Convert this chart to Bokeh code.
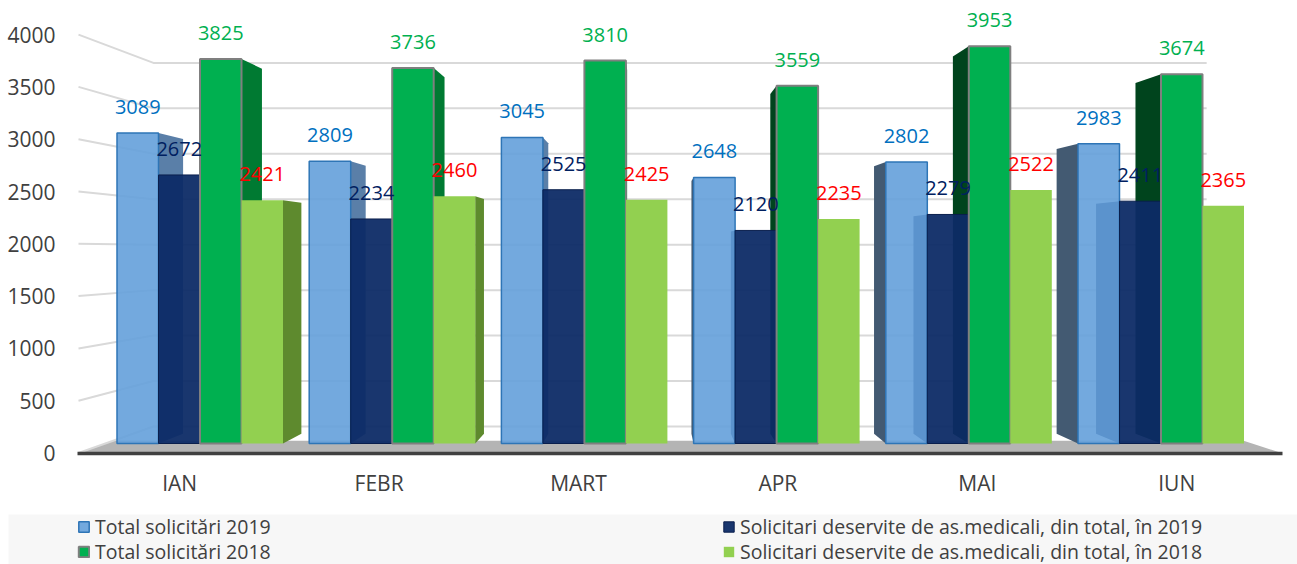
from bokeh.plotting import figure
from bokeh.models import (Range1d, LinearAxis, FixedTicker, Legend, LegendItem,
                          BoxAnnotation, ColumnDataSource, Grid)
from bokeh.core.properties import value
from bokeh.embed import file_html
from bokeh.resources import INLINE

# ---------------- data ----------------
months = ["IAN", "FEBR", "MART", "APR", "MAI", "IUN"]
total_2019 = [3089, 2809, 3045, 2648, 2802, 2983]
asist_2019 = [2672, 2234, 2525, 2120, 2279, 2411]
total_2018 = [3825, 3736, 3810, 3559, 3953, 3674]
asist_2018 = [2421, 2460, 2425, 2235, 2522, 2365]
y_ticks = [0, 500, 1000, 1500, 2000, 2500, 3000, 3500, 4000]
series_labels = [
    "Total solicitări 2019",
    "Solicitari deservite de as.medicali, din total, în 2019",
    "Total solicitări 2018",
    "Solicitari deservite de as.medicali, din total, în 2018",
]

# ---------------- styles ----------------
FONT = "Open Sans"
TXT = "#404040"
front_fill = ["#64a0da", "#0d2b66", "#00b050", "#92d050"]
front_alpha = [0.9, 0.95, 1.0, 1.0]
front_line = ["#2e75b6", "#0a1f4d", "#7f7f7f", None]
front_lw = [1.5, 1.0, 2.0, 0]
side_right = ["#5a7fa8", "#26407a", "#007a32", "#5e8a2e"]
side_left = ["#435a72", "#0a2050", "#00441d", "#4f7a26"]
label_color = ["#0070c0", "#002060", "#00b050", "#ff0000"]

# ---------------- layout (pixels inside the figure) ----------------
W, H = 1297, 564
GX0, GDX = 199.5, 192.2      # centre of first month group, spacing of groups
LX0, LDX = 179.2, 199.4      # month labels on the front edge of the floor
A0, APX = 452.5, 0.1046      # value axis: pixel row of 0, pixels per unit
F0, FPX = 443.0, 0.1005      # front plane of the bars
VPX, VPY = 650.0, 250.0      # vanishing point of the perspective
S_BAR, S_FLOOR, S_WALL = 0.05, 0.06, 0.131
BAR_PX = 41.5


def xd(px):
    return (px - GX0) / GDX


def xl_(px):
    return (px - LX0) / LDX


def yd(px):
    return (A0 - px) / APX


vpx = xd(VPX)
vpy_front = (F0 - VPY) / FPX
vpy_axis = (A0 - VPY) / APX


def back(x, y, vy, s):
    return x + s * (vpx - x), y + s * (vy - y)


p = figure(width=W, height=H,
           x_range=Range1d(xd(0), xd(W)), y_range=Range1d(yd(H), yd(0)),
           output_backend="svg", toolbar_location=None,
           x_axis_location=None, y_axis_location=None,
           min_border=0, outline_line_color=None,
           background_fill_color="white", border_fill_color="white")
p.extra_y_ranges = {"front": Range1d(-(H - F0) / FPX, F0 / FPX)}
p.extra_x_ranges = {"lbl": Range1d(xl_(0), xl_(W))}
p.center = [c for c in p.center if not isinstance(c, Grid)]
p.renderers = [r for r in p.renderers if not isinstance(r, Grid)]

# legend band
p.add_layout(BoxAnnotation(top=yd(514), left=xd(8), fill_color="#f7f7f7", fill_alpha=1.0,
                           line_color=None, level="underlay"))

# floor
x_left, x_right = xd(78), xd(1281)
bl = back(x_left, 0, vpy_axis, S_FLOOR)
br = back(x_right, 0, vpy_axis, S_FLOOR)
p.patch([x_left, x_right, br[0], bl[0]], [0, 0, br[1], bl[1]],
        fill_color="#b4b4b4", line_color=None)

# gridlines on side and back wall
gx, gy = [], []
for v in y_ticks:
    b1 = back(x_left, v, vpy_axis, S_WALL)
    b2 = back(xd(1290), v, vpy_axis, S_WALL)
    gx.append([x_left, b1[0], b2[0]])
    gy.append([v, b1[1], b1[1]])
p.multi_line(gx, gy, line_color="#d9d9d9", line_width=2)

series = [total_2019, asist_2019, total_2018, asist_2018]
BW = BAR_PX / GDX
offsets = [(j - 1.5) * BW for j in range(4)]

# side faces
sx, sy, sc = [], [], []
for j, vals in enumerate(series):
    for i, v in enumerate(vals):
        xc = i + offsets[j]
        xl, xr = xc - BW / 2, xc + BW / 2
        if xr <= vpx:
            edge, col = xr, side_right[j]
        elif xl >= vpx:
            edge, col = xl, side_left[j]
        else:
            continue
        b0 = back(edge, 0, vpy_front, S_BAR)
        b1 = back(edge, v, vpy_front, S_BAR)
        sx.append([edge, edge, b1[0], b0[0]])
        sy.append([0, v, b1[1], b0[1]])
        sc.append(col)
p.patches(sx, sy, fill_color=sc, line_color=None, y_range_name="front")

# front faces
renderers, sources = [], []
for j, vals in enumerate(series):
    src = ColumnDataSource(dict(x=[i + offsets[j] for i in range(len(months))], top=vals,
                                lab=[str(v) for v in vals]))
    kw = dict(line_color=front_line[j], line_width=front_lw[j]) if front_line[j] else dict(line_color=None)
    r = p.vbar(x="x", top="top", bottom=0, width=BW, source=src, y_range_name="front",
               fill_color=front_fill[j], fill_alpha=front_alpha[j], **kw)
    renderers.append(r)
    sources.append(src)

# data labels (drawn on top of every bar)
for j, src in enumerate(sources):
    p.text(x="x", y="top", text="lab", source=src, y_range_name="front",
           text_align="center", text_baseline="middle", y_offset=-26,
           text_font=value(FONT), text_font_size="20px", text_color=label_color[j])

# axes
yaxis = LinearAxis(ticker=FixedTicker(ticks=y_ticks), fixed_location=xd(70),
                   axis_line_color=None, major_tick_line_color=None,
                   minor_tick_line_color=None, major_label_standoff=9,
                   major_label_text_font=FONT, major_label_text_font_size="21px",
                   major_label_text_color=TXT)
p.add_layout(yaxis, "left")

xaxis = LinearAxis(x_range_name="lbl", ticker=FixedTicker(ticks=list(range(len(months)))),
                   major_label_overrides={i: m for i, m in enumerate(months)},
                   fixed_location=0, bounds=(xl_(77), xl_(1282)),
                   axis_line_color="#404040", axis_line_width=3.5,
                   major_tick_line_color=None, minor_tick_line_color=None,
                   major_label_standoff=10,
                   major_label_text_font=FONT, major_label_text_font_size="21px",
                   major_label_text_color=TXT)
p.add_layout(xaxis, "below")

# legends (one per entry, two columns)
ITEM_H = 27
rows = [526, 551]
cols = [77, 722]
order = [(0, 0, 0), (2, 0, 1), (1, 1, 0), (3, 1, 1)]
for k, c, r in order:
    leg = Legend(items=[LegendItem(label=series_labels[k], renderers=[renderers[k]])],
                 location=(cols[c], H - rows[r] - ITEM_H / 2),
                 padding=0, margin=0, spacing=0, border_line_color=None,
                 background_fill_alpha=0, glyph_width=13, glyph_height=13,
                 label_standoff=5, label_text_font=FONT, label_text_font_size="19.5px",
                 label_text_color=TXT, label_text_baseline="middle")
    p.add_layout(leg, "center")

open("out.html", "w").write(file_html(p, INLINE))
